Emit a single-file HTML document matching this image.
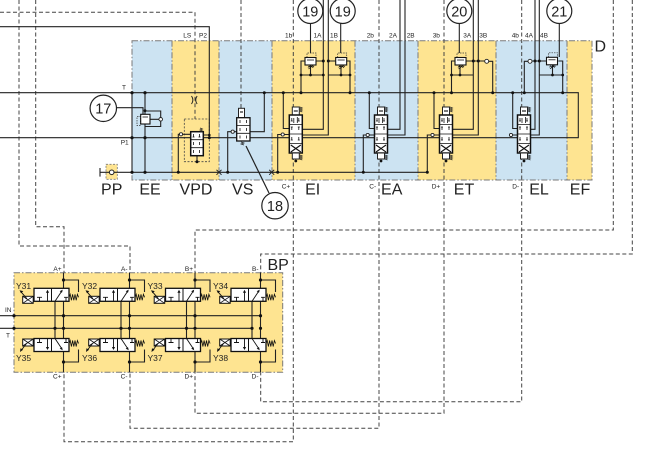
<!DOCTYPE html>
<html><head><meta charset="utf-8">
<style>
html,body{margin:0;padding:0;background:#fff;}
svg{display:block;}
text{font-family:"Liberation Sans",Arial,sans-serif;fill:#222;}
</style></head><body>
<svg width="648" height="464" viewBox="0 0 648 464" xmlns="http://www.w3.org/2000/svg">
<defs>
  <g id="sv">
    <rect x="-3.5" y="-8" width="7" height="8" fill="#fff" stroke="#222" stroke-width="1"/>
    <path d="M-2,-4 H2" stroke="#222" stroke-width="1.2"/>
    <path d="M4,-8 l2.5,1 -2.5,1 2.5,1 -2.5,1 2.5,1" fill="none" stroke="#222" stroke-width="0.7"/>
    <rect x="-6.5" y="0" width="13" height="38" fill="#fff" stroke="#111" stroke-width="1.5"/>
    <path d="M-6.5,9.5 H6.5 M-6.5,19 H6.5 M-6.5,28.5 H6.5" stroke="#111" stroke-width="0.8"/>
    <path d="M-4,3 V6 M-5,6 H-3 M3,3 V6 M2,6 H4 M-2,3 V8 M1.5,2 V8" stroke="#111" stroke-width="0.8" fill="none"/>
    <path d="M-4,12 V15 M-5,12 H-3 M3,12 V15 M2,12 H4 M-4,22 V25 M-5,25 H-3 M3,22 V25 M2,25 H4" stroke="#111" stroke-width="0.8" fill="none"/>
    <path d="M-5,30 L5,37 M5,30 L-5,37" stroke="#111" stroke-width="1.1"/>
    <rect x="-3.5" y="38" width="7" height="6" fill="#fff" stroke="#222" stroke-width="1"/>
    <path d="M4,40 l2.5,1 -2.5,1 2.5,1 -2.5,1 2.5,1" fill="none" stroke="#222" stroke-width="0.7"/>
  </g>
  <g id="rv">
    <path d="M2,0 V-4.5 H11 V0" fill="none" stroke="#333" stroke-width="0.7" stroke-dasharray="1.5 1"/>
    <rect x="0" y="0" width="11" height="7.5" fill="#fff" stroke="#111" stroke-width="1.1"/>
    <path d="M2,2.5 H9" stroke="#111" stroke-width="0.8"/>
    <path d="M3,10 l1.2,-1.5 1.2,1.5 1.2,-1.5 1.2,1.5 1.2,-1.5 M3.5,11.5 L8,8" fill="none" stroke="#111" stroke-width="0.7"/>
  </g>
  <g id="bu">
    <rect x="-29.5" y="0" width="35" height="13" fill="#fff" stroke="#111" stroke-width="1.3"/>
    <path d="M-12,0 V13" stroke="#111" stroke-width="1"/>
    <path d="M-24,13 V9 M-26.5,9 H-21.5 M-16,13 V3.5 M2.5,13 V9 M0.5,9 H4.5 M-8.5,13 L-1.5,2.5" stroke="#111" stroke-width="0.9" fill="none"/>
    <path d="M-16,1.5 l-1.6,3 h3.2 z M-0.8,1.3 l-3,1.6 l2.3,1.5 z" fill="#111"/>
    <rect x="-40.8" y="8" width="10.5" height="7" fill="#fff" stroke="#111" stroke-width="1"/>
    <path d="M-40.8,8 L-30.3,15 M-30.3,8 L-40.8,15 M-30.3,11.5 H-29.5" stroke="#111" stroke-width="0.8"/>
    <path d="M-42.5,3.5 L-36.5,10.5" stroke="#111" stroke-width="0.9"/>
    <path d="M-44,2 l3.8,0.8 l-2.3,2.2 z" fill="#111"/>
    <path d="M5.5,9 l1.2,-3 1.2,6 1.2,-6 1.2,6 1.2,-6 1.2,6 1.2,-6 1.2,3" fill="none" stroke="#111" stroke-width="0.8"/>
  </g>
  <g id="bl">
    <rect x="-29.5" y="0" width="35" height="13" fill="#fff" stroke="#111" stroke-width="1.3"/>
    <path d="M-12,0 V13" stroke="#111" stroke-width="1"/>
    <path d="M-24,0 V4 M-26.5,4 H-21.5 M-16,0 V9.5 M2.5,0 V4 M0.5,4 H4.5 M-8.5,0 L-1.5,10.5" stroke="#111" stroke-width="0.9" fill="none"/>
    <path d="M-16,11.5 l-1.6,-3 h3.2 z M-0.8,11.7 l-3,-1.6 l2.3,-1.5 z" fill="#111"/>
    <rect x="-40.8" y="0.5" width="10.5" height="7" fill="#fff" stroke="#111" stroke-width="1"/>
    <path d="M-40.8,0.5 L-30.3,7.5 M-30.3,0.5 L-40.8,7.5 M-30.3,4 H-29.5" stroke="#111" stroke-width="0.8"/>
    <path d="M-37,5 L-42,11.5" stroke="#111" stroke-width="0.9"/>
    <path d="M-43.5,13.5 l0.5,-3.8 l2.6,1.6 z" fill="#111"/>
    <path d="M5.5,5 l1.2,-3 1.2,6 1.2,-6 1.2,6 1.2,-6 1.2,6 1.2,-6 1.2,3" fill="none" stroke="#111" stroke-width="0.8"/>
  </g>
</defs>

<g>
  <rect x="132" y="40.7" width="40" height="139.3" fill="#cce3f2"/>
  <rect x="172" y="40.7" width="47" height="139.3" fill="#fee491"/>
  <rect x="219" y="40.7" width="53" height="139.3" fill="#cce3f2"/>
  <rect x="272" y="40.7" width="83" height="139.3" fill="#fee491"/>
  <rect x="355" y="40.7" width="63" height="139.3" fill="#cce3f2"/>
  <rect x="418" y="40.7" width="78" height="139.3" fill="#fee491"/>
  <rect x="496" y="40.7" width="71" height="139.3" fill="#cce3f2"/>
  <rect x="567" y="40.7" width="25" height="139.3" fill="#fee491"/>
</g>
<g fill="none" stroke="#7a7a7a" stroke-width="1" stroke-dasharray="6 2 1.5 2">
  <rect x="132" y="40.7" width="460" height="139.3"/>
  <path d="M172,40.7 V180 M219,40.7 V180 M272,40.7 V180 M355,40.7 V180 M418,40.7 V180 M496,40.7 V180 M567,40.7 V180"/>
</g>
<rect x="106" y="164.3" width="11.3" height="15" fill="#fee491" stroke="#7a7a7a" stroke-width="0.8" stroke-dasharray="2 1.5"/>
<rect x="14" y="272.7" width="268.7" height="99.6" fill="#fee491" stroke="#7a7a7a" stroke-width="1" stroke-dasharray="6 2 1.5 2"/>

<g fill="none" stroke="#444" stroke-width="1" stroke-dasharray="4 2.5">
  <path d="M0,12.3 H195 V119"/>
  <path d="M241,0 V108.3"/>
  <path d="M35.7,0 V226.7 H64 V272.7"/>
  <path d="M19,0 V246 H130 V272.7"/>
  <path d="M613.3,0 V230 H195 V272.7"/>
  <path d="M632.3,0 V254 H260.7 V272.7"/>
  <path d="M293.3,0 V441.7 H64 V372.3"/>
  <path d="M379,0 V428.3 H130 V372.3"/>
  <path d="M444,0 V413.3 H195 V372.3"/>
  <path d="M521.7,0 V401.7 H260.7 V372.3"/>
  <rect x="184.3" y="119" width="25" height="42.7" stroke-width="0.8" stroke-dasharray="2 1.5"/>
</g>

<g fill="none" stroke="#222" stroke-width="1.1">
  <path d="M0,26.7 H209.3 V137.7"/>
  <path d="M0,92.7 H578.3 V137.7 H0"/>
  <path d="M100,172.3 H427.3"/>
  <path d="M100,168 V176.6"/>
  <path d="M132,92.7 V172.3 M145,92.7 V172.3"/>
  <path d="M116.6,107.7 H143 V114"/>
  <path d="M150,119.3 H159 M145,111 H160.7 V117.5 M145,126.5 H160.7 V121"/>
  <path d="M178.3,172.3 V134.3 H179.5 M182.5,134.3 H190.7 M197,155.7 V161.7 M203.3,135 H209.3"/>
  <path d="M250,131.7 H264.3 V92.7 M227.7,172.3 V131.7 H231.2 M234.2,131.7 H236.7"/>
  <path d="M246,146 L269,193" stroke-width="1.2"/>
  <path d="M283.3,92.7 V128.5 H289.3 M284.2,134.5 H289.3 M277.7,172.3 V134.5 H281.2"/>
  <path d="M323.3,0 V129.3 H302.3 M328.3,0 V135 H302.3"/>
  <path d="M316,61 H323.3 M310.5,65 V75 M305,61 H301 V92.7 M301,75 H323.3"/>
  <path d="M335.7,61 H328.3 M346.7,61 H350 V92.7 M328.3,75 H350 M341,65 V75"/>
  <path d="M310.5,23.5 V53 M340.7,23.5 V53"/>
  <path d="M369.3,92.7 V128.5 H374.7 M369.2,135 H374.7 M363.3,172.3 V135 H366.2"/>
  <path d="M400,0 V129.3 H387.3 M405,0 V135 H387.3"/>
  <path d="M434,92.7 V128.5 H439.5 M434,135 H439.5 M427.3,172.3 V135 H431"/>
  <path d="M473.3,0 V129.3 H452.5 M478.3,0 V135 H452.5"/>
  <path d="M455,61 H451.5 V92.7 M451.5,75 H473.3 M460,65 V75 M465,61 H484.7 M488.7,61.3 H492.7 V92.7"/>
  <path d="M459.3,23.5 V53"/>
  <path d="M512.7,92.7 V128.5 H517.5 M512.5,135 H517.5"/>
  <path d="M535,0 V129.3 H530.5 M539.3,0 V135 H530.5"/>
  <path d="M558.3,61 H562.7 V92.7 M539.3,75 H562.7 M552.5,65 V75 M546,61 H532 M528,61.3 H524.3 V92.7"/>
  <path d="M559.3,23.5 V57"/>
  <path d="M0,315.7 H262 M0,328.3 H252"/>
  <path d="M63.5,272.7 V372.3 M55,301 V338.5 M63.5,280 H78.5 V292 M63.5,362 H78.5 V349.5"/>
  <path d="M129.5,272.7 V372.3 M121,301 V338.5 M129.5,280 H144.5 V292 M129.5,362 H144.5 V349.5"/>
  <path d="M195,272.7 V372.3 M186.5,301 V338.5 M195,280 H210 V292 M195,362 H210 V349.5"/>
  <path d="M260.5,272.7 V372.3 M252,301 V338.5 M260.5,280 H275.5 V292 M260.5,362 H275.5 V349.5"/>
</g>
<path d="M216.5,169.8 L221.5,174.8 M221.5,169.8 L216.5,174.8 M269.2,169.8 L274.2,174.8 M274.2,169.8 L269.2,174.8" stroke="#222" stroke-width="1"/>
<path d="M191.5,96 Q194.3,100 191.5,104 M197.1,96 Q194.3,100 197.1,104" fill="none" stroke="#222" stroke-width="1"/>

<rect x="137" y="116.5" width="3.5" height="9" fill="none" stroke="#333" stroke-width="0.7" stroke-dasharray="1.5 1"/>
<rect x="140.7" y="114.3" width="9.3" height="9.7" fill="#fff" stroke="#111" stroke-width="1.1"/>
<path d="M142.5,117 H148" stroke="#111" stroke-width="0.8"/>
<circle cx="160.7" cy="119.3" r="1.8" fill="#fff" stroke="#222" stroke-width="0.9"/>

<rect x="190.7" y="131.7" width="12.6" height="24" fill="#fff" stroke="#111" stroke-width="1.5"/>
<path d="M190.7,139.7 H203.3 M190.7,147.7 H203.3" stroke="#111" stroke-width="0.8"/>
<path d="M193.5,134 V137 M199.5,134 V137 M193.5,142 V145 M199.5,142 V145 M193.5,150 V153 M199.5,150 V153 M192.5,137 H194.5 M198.5,137 H200.5" stroke="#111" stroke-width="0.8"/>
<path d="M200,128 l2.5,1 -2.5,1 2.5,1 -2.5,1" fill="none" stroke="#222" stroke-width="0.7"/>
<circle cx="181" cy="134.3" r="1.6" fill="#fff" stroke="#222" stroke-width="0.9"/>

<rect x="238.5" y="108.3" width="6" height="9.4" fill="#fff" stroke="#222" stroke-width="1"/>
<path d="M240,112 H243" stroke="#222" stroke-width="1.2"/>
<rect x="236.7" y="117.7" width="13.3" height="23.3" fill="#fff" stroke="#111" stroke-width="1.3"/>
<path d="M236.7,125.5 H250 M236.7,133.3 H250" stroke="#111" stroke-width="0.8"/>
<path d="M240,120 V123 M246.5,120 V123 M240,128 V131 M246.5,128 V131 M240,135.5 V138.5 M246.5,135.5 V138.5" stroke="#111" stroke-width="0.8"/>
<path d="M241,142 l3,1 -3,1 3,1" fill="none" stroke="#222" stroke-width="0.7"/>
<circle cx="232.7" cy="131.7" r="1.6" fill="#fff" stroke="#222" stroke-width="0.9"/>

<use href="#sv" x="295.8" y="115"/>
<use href="#sv" x="381" y="115"/>
<use href="#sv" x="446" y="115"/>
<use href="#sv" x="524" y="115"/>
<circle cx="282.7" cy="134.5" r="1.6" fill="#fff" stroke="#222" stroke-width="0.9"/>
<circle cx="367.7" cy="135" r="1.6" fill="#fff" stroke="#222" stroke-width="0.9"/>
<circle cx="432.5" cy="135" r="1.6" fill="#fff" stroke="#222" stroke-width="0.9"/>
<circle cx="511" cy="135" r="1.6" fill="#fff" stroke="#222" stroke-width="0.9"/>

<use href="#rv" x="305" y="57.5"/>
<use href="#rv" x="335.7" y="57.5"/>
<use href="#rv" x="455" y="57.5"/>
<use href="#rv" x="546.5" y="57.3"/>
<circle cx="486.7" cy="61.3" r="2" fill="#fff" stroke="#222" stroke-width="0.9"/>
<circle cx="530" cy="61.3" r="2" fill="#fff" stroke="#222" stroke-width="0.9"/>

<use href="#bu" x="63.5" y="288.3"/>
<use href="#bu" x="129.5" y="288.3"/>
<use href="#bu" x="195" y="288.3"/>
<use href="#bu" x="260.5" y="288.3"/>
<use href="#bl" x="63.5" y="338.5"/>
<use href="#bl" x="129.5" y="338.5"/>
<use href="#bl" x="195" y="338.5"/>
<use href="#bl" x="260.5" y="338.5"/>

<g fill="#111">
  <circle cx="132" cy="92.7" r="1.6"/><circle cx="132" cy="137.7" r="1.6"/><circle cx="132" cy="172.3" r="1.6"/>
  <circle cx="145" cy="92.7" r="1.6"/><circle cx="145" cy="137.7" r="1.6"/><circle cx="145" cy="172.3" r="1.6"/>
  <circle cx="145" cy="110.7" r="1.4"/>
  <circle cx="178.3" cy="172.3" r="1.5"/><circle cx="197" cy="161.7" r="1.5"/><circle cx="209.3" cy="137.7" r="1.5"/><circle cx="209.3" cy="135" r="1.3"/>
  <circle cx="227.7" cy="172.3" r="1.5"/><circle cx="264.3" cy="92.7" r="1.5"/>
  <circle cx="283.3" cy="92.7" r="1.5"/><circle cx="301" cy="92.7" r="1.5"/><circle cx="350" cy="92.7" r="1.5"/>
  <circle cx="277.7" cy="172.3" r="1.5"/>
  <circle cx="323.3" cy="61" r="1.5"/><circle cx="301" cy="75" r="1.4"/><circle cx="310.5" cy="75" r="1.4"/><circle cx="323.3" cy="75" r="1.4"/>
  <circle cx="328.3" cy="61" r="1.5"/><circle cx="341" cy="75" r="1.4"/><circle cx="350" cy="75" r="1.4"/>
  <circle cx="369.3" cy="92.7" r="1.5"/><circle cx="363.3" cy="172.3" r="1.5"/>
  <circle cx="434" cy="92.7" r="1.5"/><circle cx="427.3" cy="172.3" r="1.5"/>
  <circle cx="451.5" cy="92.7" r="1.5"/><circle cx="492.7" cy="92.7" r="1.5"/>
  <circle cx="473.3" cy="61" r="1.5"/><circle cx="478.3" cy="61" r="1.5"/><circle cx="460" cy="75" r="1.4"/><circle cx="451.5" cy="75" r="1.4"/>
  <circle cx="512.7" cy="92.7" r="1.5"/><circle cx="524.3" cy="92.7" r="1.5"/><circle cx="562.7" cy="92.7" r="1.5"/>
  <circle cx="535" cy="61" r="1.5"/><circle cx="539.3" cy="61" r="1.5"/><circle cx="552.5" cy="75" r="1.4"/><circle cx="562.7" cy="75" r="1.4"/>
  <circle cx="295.8" cy="161" r="1.4"/><circle cx="381" cy="161" r="1.4"/><circle cx="446" cy="161" r="1.4"/><circle cx="524" cy="161" r="1.4"/>
  <circle cx="14" cy="315.7" r="1.6"/><circle cx="14" cy="328.3" r="1.6"/>
  <circle cx="63.5" cy="280" r="1.6"/><circle cx="63.5" cy="315.7" r="1.6"/><circle cx="63.5" cy="328.3" r="1.6"/><circle cx="55" cy="328.3" r="1.6"/><circle cx="63.5" cy="362" r="1.6"/>
  <circle cx="129.5" cy="280" r="1.6"/><circle cx="129.5" cy="315.7" r="1.6"/><circle cx="129.5" cy="328.3" r="1.6"/><circle cx="121" cy="328.3" r="1.6"/><circle cx="129.5" cy="362" r="1.6"/>
  <circle cx="195" cy="280" r="1.6"/><circle cx="195" cy="315.7" r="1.6"/><circle cx="195" cy="328.3" r="1.6"/><circle cx="186.5" cy="328.3" r="1.6"/><circle cx="195" cy="362" r="1.6"/>
  <circle cx="260.5" cy="280" r="1.6"/><circle cx="260.5" cy="315.7" r="1.6"/><circle cx="260.5" cy="328.3" r="1.6"/><circle cx="252" cy="328.3" r="1.6"/><circle cx="260.5" cy="362" r="1.6"/>
</g>
<circle cx="111.7" cy="172.3" r="2.3" fill="#fff" stroke="#222" stroke-width="1"/>

<g fill="#fff" stroke="#222" stroke-width="1.2">
  <circle cx="310.3" cy="11" r="12.5"/>
  <circle cx="342.7" cy="11" r="12.5"/>
  <circle cx="459.3" cy="11" r="12.5"/>
  <circle cx="559.3" cy="11" r="12.5"/>
  <circle cx="103.3" cy="108.3" r="13.2"/>
  <circle cx="275" cy="205.7" r="13.2"/>
</g>
<g font-size="14.5" text-anchor="middle">
  <text x="310.3" y="16.3">19</text>
  <text x="342.7" y="16.3">19</text>
  <text x="459.3" y="16.3">20</text>
  <text x="559.3" y="16.3">21</text>
  <text x="103.3" y="113.5">17</text>
  <text x="275" y="211">18</text>
</g>

<g font-size="16" text-anchor="middle">
  <text x="111.7" y="194.3">PP</text>
  <text x="150" y="194.3">EE</text>
  <text x="196" y="194.3">VPD</text>
  <text x="242.7" y="194.3">VS</text>
  <text x="312.7" y="194.3">EI</text>
  <text x="391.7" y="194.3">EA</text>
  <text x="464" y="194.3">ET</text>
  <text x="539" y="194.3">EL</text>
  <text x="580" y="194.3">EF</text>
</g>
<text x="594.5" y="51.5" font-size="16">D</text>
<text x="267.5" y="270" font-size="16">BP</text>

<g font-size="6.5" fill="#333">
  <text x="183.3" y="37.3">LS</text>
  <text x="199" y="37.3">P2</text>
  <text x="285" y="37.3">1b</text>
  <text x="313.5" y="37.3">1A</text>
  <text x="330" y="37.3">1B</text>
  <text x="366.7" y="37.3">2b</text>
  <text x="389" y="37.3">2A</text>
  <text x="406.7" y="37.3">2B</text>
  <text x="432.7" y="37.3">3b</text>
  <text x="463.3" y="37.3">3A</text>
  <text x="479.3" y="37.3">3B</text>
  <text x="511.7" y="37.3">4b</text>
  <text x="525" y="37.3">4A</text>
  <text x="540" y="37.3">4B</text>
  <text x="122" y="89.5">T</text>
  <text x="120.7" y="144.3">P1</text>
  <text x="281.7" y="188.5">C+</text>
  <text x="369.3" y="188.5">C-</text>
  <text x="431.7" y="188.5">D+</text>
  <text x="512.3" y="188.5">D-</text>
  <text x="61.5" y="270.8" text-anchor="end">A+</text>
  <text x="127.5" y="270.8" text-anchor="end">A-</text>
  <text x="193" y="270.8" text-anchor="end">B+</text>
  <text x="258.5" y="270.8" text-anchor="end">B-</text>
  <text x="61.5" y="378.5" text-anchor="end">C+</text>
  <text x="127.5" y="378.5" text-anchor="end">C-</text>
  <text x="193" y="378.5" text-anchor="end">D+</text>
  <text x="258.5" y="378.5" text-anchor="end">D-</text>
  <text x="5" y="312">IN</text>
  <text x="6" y="337.5">T</text>
</g>
<g font-size="8.5" fill="#222">
  <text x="16" y="289">Y31</text>
  <text x="82" y="289">Y32</text>
  <text x="147.5" y="289">Y33</text>
  <text x="213" y="289">Y34</text>
  <text x="16" y="361">Y35</text>
  <text x="82" y="361">Y36</text>
  <text x="147.5" y="361">Y37</text>
  <text x="213" y="361">Y38</text>
</g>
</svg>
</body></html>
